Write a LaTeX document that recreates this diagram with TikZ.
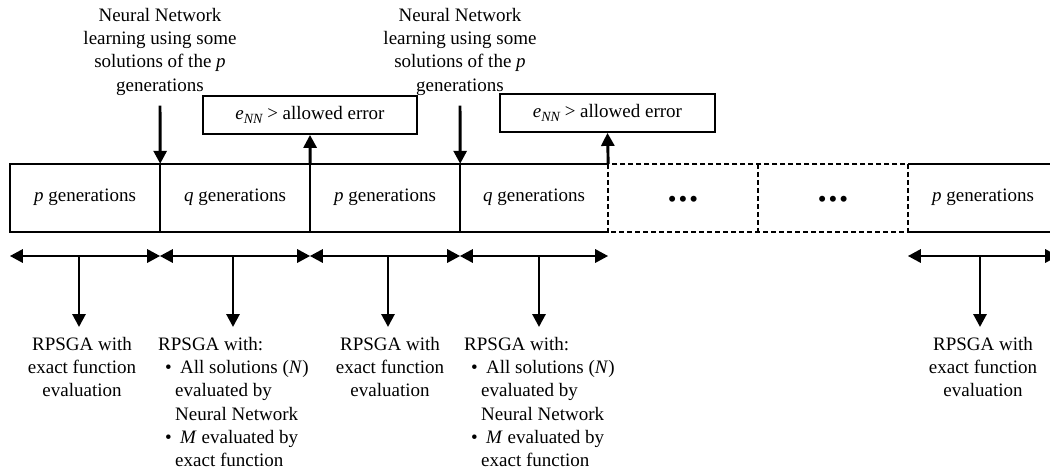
\documentclass[tikz,border=0pt]{standalone}
\usepackage{fontspec}
\setmainfont{Liberation Serif}
\usetikzlibrary{arrows.meta}
\begin{document}
\begin{tikzpicture}[x=1pt,y=-1pt,
  every node/.style={font=\fontsize{19}{23.3}\selectfont, inner sep=0pt},
  gen/.style={minimum height=68pt, minimum width=150pt, text height=13pt, text depth=7pt},
  ebox/.style={draw, line width=1.8pt, minimum width=214pt, minimum height=38pt},
  thin/.style={line width=1.8pt},
  dsh/.style={line width=1.9pt, dash pattern=on 5pt off 3pt},
  dots/.style={font=\fontsize{25}{25}\selectfont},
  arr/.style={line width=2.9pt, -{Triangle[length=13pt,width=13pt]}},
  dbl/.style={line width=2.9pt, {Triangle[length=13pt,width=13pt]}-{Triangle[length=13pt,width=13pt]}},
  lbl/.style={align=center, anchor=north},
  lst/.style={align=left, anchor=north west}]
\useasboundingbox (0,0) rectangle (1050,475);
\clip (0,0) rectangle (1050,475);

% generation blocks
\node[gen] (b1) at (85,198) {\textit{p} generations};
\node[gen] (b2) at (235,198) {\textit{q} generations};
\node[gen] (b3) at (385,198) {\textit{p} generations};
\node[gen, minimum width=148pt] (b4) at (534,198) {\textit{q} generations};
\node[gen] (b5) at (683,198) {};
\node[gen] (b6) at (833,198) {};
\node[gen] (b7) at (983,198) {\textit{p} generations};
\node[dots] (d5) at (683,202) {\textbullet\hspace{2pt}\textbullet\hspace{2pt}\textbullet};
\node[dots] (d6) at (833,202) {\textbullet\hspace{2pt}\textbullet\hspace{2pt}\textbullet};

% block outlines
\draw[thin] (b4.north east) -- (b1.north west) -- (b1.south west) -- (b4.south east);
\foreach \b in {b1,b2,b3} \draw[thin] (\b.north east) -- (\b.south east);
\draw[dsh] (b5.north west) rectangle (b6.south east);
\draw[dsh] (b5.north east) -- (b5.south east);
\draw[dsh] (b6.north east) -- (b6.south east);
\draw[thin] (b7.north west) -- (b7.north east);
\draw[thin] (b7.south west) -- (b7.south east);

% network training notes and error checks
\node[lbl] (nn1) at (160,8) {Neural Network\\learning using some\\solutions of the \textit{p}\\generations};
\node[lbl] (nn2) at (460,8) {Neural Network\\learning using some\\solutions of the \textit{p}\\generations};
\node[ebox] (e1) at (310,115) {\textit{e}\raisebox{-4pt}{\fontsize{14}{14}\selectfont\itshape NN} > allowed error};
\node[ebox, minimum width=215pt] (e2) at (607.5,113) {\textit{e}\raisebox{-4pt}{\fontsize{14}{14}\selectfont\itshape NN} > allowed error};
\draw[arr, shorten <=10pt] (nn1.south) -- (b1.north east);
\draw[arr, shorten <=10pt] (nn2.south) -- (b3.north east);
\draw[arr] (b2.north east) -- (e1.south);
\draw[arr] (b4.north east) -- (e2.south);

% span arrows
\coordinate (j1) at (79,256);
\coordinate (j2) at (233,256);
\coordinate (j3) at (388,256);
\coordinate (j4) at (539,256);
\coordinate (j5) at (980,256);
\draw[dbl] (b1.south west |- j1) -- (b1.south east |- j1);
\draw[dbl] (b2.south west |- j2) -- (b2.south east |- j2);
\draw[dbl] (b3.south west |- j3) -- (b3.south east |- j3);
\draw[dbl] (b4.south west |- j4) -- (b4.south east |- j4);
\draw[dbl] (b7.south west |- j5) -- (b7.south east |- j5);

% algorithm descriptions
\node[lbl] (t1) at (82,337) {RPSGA with\\exact function\\evaluation};
\node[lst] (t2) at (158,337) {RPSGA with:\\
  \makebox[17pt][l]{\hspace{7pt}\textbullet}\hspace{5pt}All solutions (\textit{N})\\
  \hspace{17pt}evaluated by\\
  \hspace{17pt}Neural Network\\
  \makebox[17pt][l]{\hspace{7pt}\textbullet}\hspace{5pt}\textit{M} evaluated by\\
  \hspace{17pt}exact function};
\node[lbl] (t3) at (390,337) {RPSGA with\\exact function\\evaluation};
\node[lst] (t4) at (464,337) {RPSGA with:\\
  \makebox[17pt][l]{\hspace{7pt}\textbullet}\hspace{5pt}All solutions (\textit{N})\\
  \hspace{17pt}evaluated by\\
  \hspace{17pt}Neural Network\\
  \makebox[17pt][l]{\hspace{7pt}\textbullet}\hspace{5pt}\textit{M} evaluated by\\
  \hspace{17pt}exact function};
\node[lbl] (t5) at (983,337) {RPSGA with\\exact function\\evaluation};
\draw[arr, shorten >=10pt] (j1) -- (j1 |- t1.north);
\draw[arr, shorten >=10pt] (j2) -- (j2 |- t2.north);
\draw[arr, shorten >=10pt] (j3) -- (j3 |- t3.north);
\draw[arr, shorten >=10pt] (j4) -- (j4 |- t4.north);
\draw[arr, shorten >=10pt] (j5) -- (j5 |- t5.north);
\end{tikzpicture}
\end{document}
